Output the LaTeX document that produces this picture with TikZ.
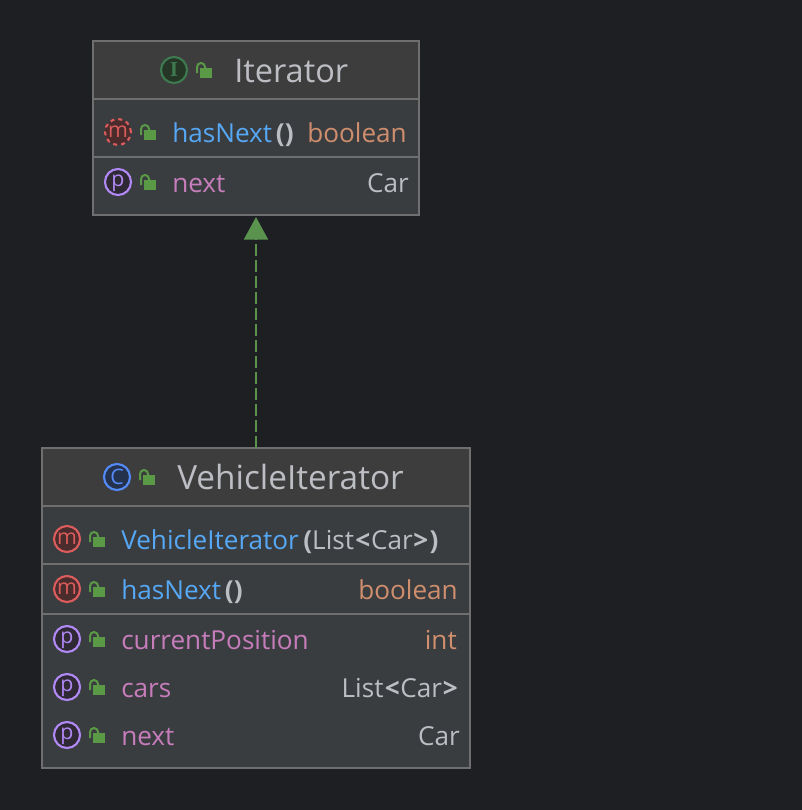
\documentclass[tikz,border=0pt]{standalone}
\usepackage{fontspec}
\setmainfont{Open Sans}
\newfontfamily\serifletter{Liberation Serif}
\usepackage{xcolor}
\usetikzlibrary{arrows.meta, positioning, calc}

\definecolor{pagebg}{HTML}{1E1F22}
\definecolor{headbg}{HTML}{3D3D3D}
\definecolor{bodybg}{HTML}{3A3D40}
\definecolor{rulegray}{HTML}{6F6F6F}
\definecolor{plaintext}{HTML}{BCBEC4}
\definecolor{methodblue}{HTML}{56A8F5}
\definecolor{propviolet}{HTML}{C77DBB}
\definecolor{typeorange}{HTML}{CF8E6D}
\definecolor{lockgreen}{HTML}{5A9A46}
\definecolor{arrowgreen}{HTML}{59934D}
\definecolor{mstroke}{HTML}{DB5C5C}
\definecolor{mfill}{HTML}{4A2C2C}
\definecolor{pstroke}{HTML}{B189F5}
\definecolor{pfill}{HTML}{2F2936}
\definecolor{cstroke}{HTML}{548AF7}
\definecolor{cfill}{HTML}{25324D}
\definecolor{istroke}{HTML}{3D7A4F}
\definecolor{ifill}{HTML}{253627}

\newcommand{\gen}[1]{\hspace{1pt}\textbf{<}\hspace{0.5pt}#1\hspace{0.5pt}\textbf{>}\hspace{1pt}}

\begin{document}
\begin{tikzpicture}[
    x=0.75pt, y=-0.75pt,
    classbox/.style={rectangle, draw=rulegray, fill=bodybg, line width=1.2pt, inner sep=0pt, outer sep=0pt},
    headbox/.style={rectangle, draw=rulegray, fill=headbg, line width=1.2pt, inner sep=0pt, outer sep=0pt},
    sepline/.style={draw=rulegray, line width=1.5pt},
    title/.style={anchor=base west, inner sep=0pt, text=plaintext, font=\fontsize{25}{25}\selectfont},
    member/.style={anchor=base west, inner sep=0pt, font=\fontsize{19.6}{20}\selectfont},
    parens/.style={member, text=plaintext, font=\fontsize{19.6}{20}\selectfont\bfseries},
    kind/.style={anchor=base east, inner sep=0pt, font=\fontsize{19.6}{20}\selectfont},
    badge/.style={circle, minimum size=19.5pt, inner sep=0pt, line width=1.6pt, font=\fontsize{16}{16}\selectfont},
    mbadge/.style={badge, draw=mstroke, fill=mfill, text=mstroke},
    pbadge/.style={badge, draw=pstroke, fill=pfill, text=pstroke, text height=10pt, text depth=4pt},
    implarrow/.style={-{Triangle[length=17pt,width=18pt]}, draw=arrowgreen, line width=1.7pt, dash pattern=on 9pt off 3pt, shorten >=1.5pt},
    lockicon/.pic={
        \fill[lockgreen] (26,-2) rectangle (38,8);
        \draw[lockgreen, line width=1.5pt] (23,3) -- (23,-3) arc[start angle=180, end angle=0, x radius=4, y radius=-4] -- (31,-1);
    }
]
\useasboundingbox[fill=pagebg] (0,0) rectangle (802,810);

% Iterator
\node[classbox, minimum width=244.5pt, minimum height=130.5pt] (iteratorbox) at (256,128) {};
\node[headbox, minimum width=244.5pt, minimum height=43.5pt] (iteratorhead) at (256,70) {};
\coordinate (iteratorsep) at (93,157);
\draw[sepline] (iteratorsep) -- (iteratorsep -| iteratorbox.east);

\node[badge, draw=istroke, fill=ifill, text=istroke] (iteratoricon) at (174,70) {\serifletter\bfseries I};
\pic at (iteratoricon) {lockicon};
\node[title, font=\fontsize{24.4}{25}\selectfont] (iteratorname) at (234,82) {Iterator};

\node[mbadge, dashed] (hasnexticon) at (118,132) {m};
\pic at (hasnexticon) {lockicon};
\node[member, text=methodblue] (hasnextname) at (172,142) {hasNext};
\node[parens, right=2.5pt of hasnextname.base east, anchor=base west] (hasnextargs) {()};
\node[kind, text=typeorange] (hasnexttype) at (407,142) {boolean};

\node[pbadge] (nexticon) at (118,182) {p};
\pic at (nexticon) {lockicon};
\node[member, text=propviolet] (nextname) at (172,192) {next};
\node[kind, text=plaintext] (nexttype) at (409,192) {Car};

% VehicleIterator
\node[classbox, minimum width=321pt, minimum height=240pt] (vehiclebox) at (256,608) {};
\node[headbox, minimum width=321pt, minimum height=43.5pt] (vehiclehead) at (256,477) {};
\coordinate (vehiclesep) at (42,564);
\coordinate (vehiclesepb) at (42,614);
\draw[sepline] (vehiclesep) -- (vehiclesep -| vehiclebox.east);
\draw[sepline] (vehiclesepb) -- (vehiclesepb -| vehiclebox.east);

\node[badge, draw=cstroke, fill=cfill, text=cstroke] (vehicleicon) at (117,477) {C};
\pic at (vehicleicon) {lockicon};
\node[title] (vehiclename) at (177,489) {VehicleIterator};

\node[mbadge] (ctoricon) at (67,539) {m};
\pic at (ctoricon) {lockicon};
\node[member, text=methodblue] (ctorname) at (121,549) {VehicleIterator};
\node[member, text=plaintext, right=3pt of ctorname.base east, anchor=base west] (ctorargs) {\textbf{(}List\gen{Car}\textbf{)}};

\node[mbadge] (vhasnexticon) at (67,589) {m};
\pic at (vhasnexticon) {lockicon};
\node[member, text=methodblue] (vhasnextname) at (121,599) {hasNext};
\node[parens, right=2.5pt of vhasnextname.base east, anchor=base west] (vhasnextargs) {()};
\node[kind, text=typeorange] (vhasnexttype) at (458,599) {boolean};

\node[pbadge] (posicon) at (67,639) {p};
\pic at (posicon) {lockicon};
\node[member, text=propviolet] (posname) at (121,649) {currentPosition};
\node[kind, text=typeorange] (postype) at (457,649) {int};

\node[pbadge] (carsicon) at (67,687) {p};
\pic at (carsicon) {lockicon};
\node[member, text=propviolet] (carsname) at (121,697) {cars};
\node[kind, text=plaintext] (carstype) at (458,697) {List\gen{Car}};

\node[pbadge] (vnexticon) at (67,735) {p};
\pic at (vnexticon) {lockicon};
\node[member, text=propviolet] (vnextname) at (121,745) {next};
\node[kind, text=plaintext] (vnexttype) at (460,745) {Car};

\draw[implarrow] (vehiclebox.north) -- (iteratorbox.south);

\end{tikzpicture}
\end{document}
